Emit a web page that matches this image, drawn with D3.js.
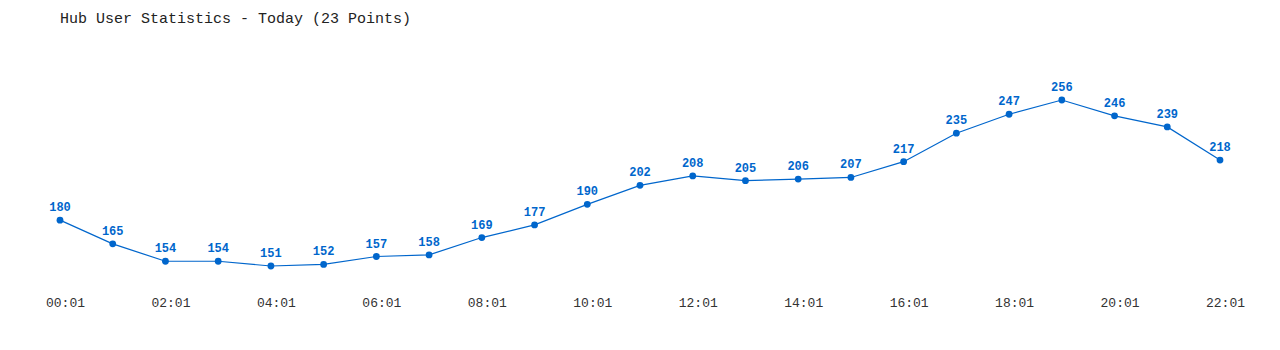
<!DOCTYPE html>
<html><head><meta charset="utf-8">
<script src="https://cdn.jsdelivr.net/npm/d3@7"></script>
<style>body{margin:0;background:#fff;} svg{display:block;}</style>
</head><body>
<svg id="chart" width="1280" height="350"></svg>
<script>
const categories = ["00:01","01:01","02:01","03:01","04:01","05:01","06:01","07:01","08:01","09:01","10:01","11:01","12:01","13:01","14:01","15:01","16:01","17:01","18:01","19:01","20:01","21:01","22:01"];
const values = [180,165,154,154,151,152,157,158,169,177,190,202,208,205,206,207,217,235,247,256,246,239,218];
const tickLabels = ["00:01","02:01","04:01","06:01","08:01","10:01","12:01","14:01","16:01","18:01","20:01","22:01"];
const title = "Hub User Statistics - Today (23 Points)";

const svg = d3.select("#chart");
const color = "#0066cc";
const font = "'Liberation Mono','DejaVu Sans Mono',monospace";

const x = d3.scalePoint().domain(categories).range([60, 1220]);
const y = d3.scaleLinear().domain([d3.min(values), d3.max(values)]).range([266, 100]);

svg.append("text").attr("x", 60).attr("y", 23)
  .attr("font-family", font).attr("font-size", 15).attr("fill", "#222")
  .text(title);

const xAxis = d3.axisBottom(x).tickValues(tickLabels).tickSize(0).tickPadding(0);
const gx = svg.append("g").attr("transform", "translate(5,298)").call(xAxis);
gx.select(".domain").remove();
gx.selectAll("text").attr("font-family", font).attr("font-size", 13).attr("fill", "#333").attr("dy", "0.71em");

const data = categories.map((c, i) => ({c, v: values[i]}));

svg.append("path").datum(data)
  .attr("fill", "none").attr("stroke", color).attr("stroke-width", 1.2)
  .attr("d", d3.line().x(d => x(d.c)).y(d => y(d.v)));

svg.selectAll("circle.pt").data(data).join("circle")
  .attr("class", "pt").attr("cx", d => x(d.c)).attr("cy", d => y(d.v)).attr("r", 3.4)
  .attr("fill", color);

svg.selectAll("text.lbl").data(data).join("text")
  .attr("class", "lbl").attr("x", d => x(d.c)).attr("y", d => y(d.v) - 9)
  .attr("text-anchor", "middle").attr("font-family", font).attr("font-size", 12)
  .attr("font-weight", "bold").attr("fill", color)
  .text(d => d.v);
</script>
</body></html>
